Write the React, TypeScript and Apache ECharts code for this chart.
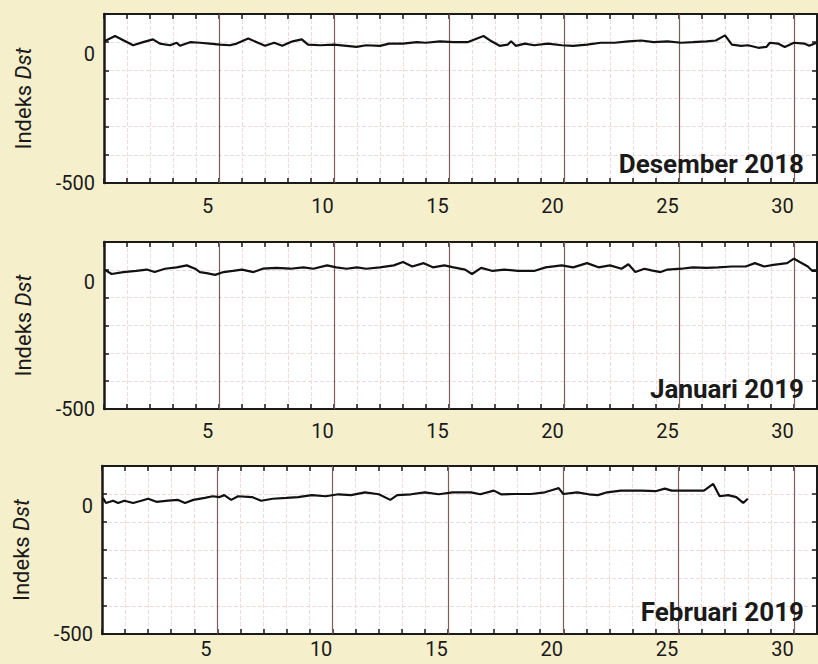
import React, { useEffect, useRef } from 'react';
import * as echarts from 'echarts';

const monthTitles = ['Desember 2018', 'Januari 2019', 'Februari 2019'];
const labelDays = [5, 10, 15, 20, 25, 30];
const majorDays = [5, 10, 15, 20, 25, 30];
const yLabelValues = [0, -500];

// Day elapsed since start of month (0..31) and Dst index (nT)
const decDays = [0.02, 0.48, 0.84, 1.27, 1.7, 2.13, 2.43, 2.87, 3.16, 3.3, 3.74, 4.17, 4.6, 5.04, 5.48, 5.77, 6.27, 6.64, 7.0, 7.4, 7.75, 8.2, 8.6, 8.87, 9.4, 10, 10.55, 10.98, 11.4, 12, 12.4, 13, 13.6, 14, 14.6, 15.2,
  15.8, 16.5, 16.85, 17.2, 17.55, 17.7, 17.9, 18.3, 18.7, 19.3, 19.9, 20.4, 21.0, 21.6, 22.2, 22.8, 23.35, 23.9, 24.5, 25.1, 25.6, 26.2, 26.6, 27.0, 27.3, 27.7, 28.0, 28.45, 28.8, 28.95, 29.3, 29.6, 30.0, 30.45, 30.66, 30.98];
const decDst = [3, 22, 7, -11, 0, 10, -5, -11, -2, -13, 0, -2, -5, -9, -11, -5, 13, 0, -13, -2, -13, 3, 10, -9, -11, -9, -13, -17, -11, -13, -5, -5, 0, -2, 3, 0,
  0, 22, 3, -13, -9, 3, -13, -5, -11, -5, -11, -13, -9, -2, -2, 3, 6, 0, 3, -2, 0, 3, 6, 24, -9, -13, -11, -20, -17, -2, -5, -17, -2, -5, -13, -2];

const janDays = [0.04, 0.33, 0.84, 1.4, 1.86, 2.2, 2.65, 3.16, 3.6, 3.96, 4.17, 4.46, 4.83, 5.2, 5.6, 6.0, 6.5, 6.9, 7.5, 8.1, 8.67, 9.1, 9.7, 10.1, 10.55, 11, 11.4, 12, 12.6, 13.0, 13.4, 13.9, 14.3, 14.8, 15.2,
  15.7, 16.0, 16.4, 16.9, 17.4, 18.0, 18.7, 19.2, 19.9, 20.4, 21.0, 21.5, 22.0, 22.5, 22.8, 23.1, 23.5, 23.8, 24.2, 24.5, 25.1, 25.6, 26.2, 26.7, 27.3, 27.9, 28.3, 28.7, 29.1, 29.7, 30.0, 30.25, 30.6, 30.8, 30.98];
const janDst = [0, -15, -8, -4, 1, -8, 4, 9, 16, 4, -8, -12, -18, -8, -4, 1, -8, 4, 7, 4, 9, 4, 16, 9, 4, 9, 4, 9, 16, 28, 12, 24, 9, 16, 9,
  1, -15, 7, -4, 1, -4, -4, 9, 16, 9, 24, 9, 16, 4, 20, -8, 4, -2, -8, 1, 4, 9, 7, 9, 12, 12, 24, 12, 18, 24, 40, 28, 12, -4, -4];

const febDays = [0.04, 0.17, 0.48, 0.7, 0.97, 1.35, 1.7, 2.0, 2.36, 2.87, 3.3, 3.6, 3.96, 4.46, 4.8, 5.1, 5.3, 5.6, 5.9, 6.5, 6.9, 7.4, 8.0, 8.5, 9.1, 9.7, 10.25, 10.8, 11.4, 12, 12.5, 12.8, 13.4, 14.0, 14.6, 15.2,
  16.0, 16.4, 16.99, 17.3, 17.87, 18.6, 19.2, 19.6, 19.8, 20.0, 20.6, 21.1, 21.5, 21.9, 22.5, 23.4, 24.0, 24.4, 24.7, 25.4, 26.1, 26.5, 26.78, 27.15, 27.5, 27.8, 28.0];
const febDst = [-14, -32, -24, -32, -24, -32, -24, -17, -28, -24, -21, -32, -21, -14, -8, -11, -4, -21, -8, -11, -24, -17, -14, -11, -4, -8, -1, -4, 6, -1, -21, -4, -1, 6, -1, 6,
  6, -1, 12, -1, 0, 0, 6, 16, 21, 0, 6, -1, -4, 6, 12, 12, 10, 19, 12, 12, 12, 36, -8, -4, -11, -32, -17];

const panelDays = [decDays, janDays, febDays];
const panelDst = [decDst, janDst, febDst];

export default function App() {
  const ref = useRef<HTMLDivElement>(null);
  useEffect(() => {
    const chart = echarts.init(ref.current!, null, { renderer: 'svg' });
    const layout = [
      { left: 104, top: 14, height: 169, titleTop: 146, labelMargin: 13 },
      { left: 104, top: 242, height: 167, titleTop: 371, labelMargin: 12 },
      { left: 102, top: 466, height: 168, titleTop: 594, labelMargin: 5 },
    ];
    const ink = '#1a1a1a';
    const font = 'Roboto, "Noto Sans", sans-serif';
    const grids: any[] = [];
    const xAxes: any[] = [];
    const yAxes: any[] = [];
    const series: any[] = [];
    const titles: any[] = [];
    layout.forEach((L, i) => {
      grids.push({ left: L.left, right: 1, top: L.top, height: L.height, show: true, backgroundColor: '#ffffff', borderWidth: 0 });
      xAxes.push({
        type: 'value', gridIndex: i, min: 0, max: 31, interval: 1, position: 'bottom',
        axisLine: { show: true, onZero: false, lineStyle: { color: ink, width: 2 } },
        axisTick: { show: true, inside: true, length: 5, lineStyle: { color: ink, width: 1.5 } },
        axisLabel: {
          show: true, customValues: labelDays.map((d) => d - 0.5),
          formatter: (v: number) => String(Math.round(v + 0.5)),
          fontSize: 20, color: ink, fontFamily: font, margin: L.labelMargin,
        },
        splitLine: { show: true, lineStyle: { color: '#f1d9dc', type: 'dashed', width: 1 } },
      });
      xAxes.push({
        type: 'value', gridIndex: i, min: 0, max: 31, interval: 1, position: 'top',
        axisLine: { show: true, onZero: false, lineStyle: { color: ink, width: 2 } },
        axisTick: { show: true, inside: true, length: 5, lineStyle: { color: ink, width: 1.5 } },
        axisLabel: { show: false }, splitLine: { show: false },
      });
      yAxes.push({
        type: 'value', gridIndex: i, min: -500, max: 100, interval: 100, position: 'left',
        name: '{a|Indeks }{b|Dst}', nameLocation: 'middle', nameGap: 70, nameRotate: 90,
        nameTextStyle: {
          fontFamily: font, fontSize: 22, color: ink,
          rich: { a: { fontFamily: font, fontSize: 22, color: ink }, b: { fontFamily: font, fontSize: 22, color: ink, fontStyle: 'italic' } },
        },
        axisLine: { show: true, onZero: false, lineStyle: { color: ink, width: 2.5 } },
        axisTick: { show: true, inside: true, length: 5, lineStyle: { color: ink, width: 1.5 } },
        axisLabel: {
          fontSize: 20, color: ink, fontFamily: font, margin: 9,
          formatter: (v: number) => (v === yLabelValues[0] ? '{z|0}' : v === yLabelValues[1] ? String(v) : ''),
          rich: { z: { fontSize: 20, color: ink, fontFamily: font, padding: [24, 0, 0, 0] } },
        },
        splitLine: { show: true, lineStyle: { color: '#f1d9dc', type: 'dashed', width: 1 } },
      });
      yAxes.push({
        type: 'value', gridIndex: i, min: -500, max: 100, interval: 100, position: 'right',
        axisLine: { show: true, onZero: false, lineStyle: { color: ink, width: 2 } },
        axisTick: { show: true, inside: true, length: 5, lineStyle: { color: ink, width: 1.5 } },
        axisLabel: { show: false }, splitLine: { show: false },
      });
      series.push({
        type: 'line', xAxisIndex: 2 * i, yAxisIndex: 2 * i,
        data: panelDays[i].map((d, k) => [d, panelDst[i][k]]),
        showSymbol: false, symbol: 'none', z: 5,
        lineStyle: { color: '#111111', width: 2.2 },
        markLine: {
          silent: true, symbol: 'none', label: { show: false }, z: 3,
          lineStyle: { color: '#7d5d5d', width: 1.2, type: 'solid' },
          data: majorDays.map((d) => ({ xAxis: d })),
        },
      });
      titles.push({
        text: monthTitles[i], right: 9, top: L.titleTop,
        textStyle: { fontFamily: font, fontSize: 26, fontWeight: 'bold', color: ink },
      });
    });
    chart.setOption({
      animation: false,
      backgroundColor: '#f6efcc',
      title: titles,
      grid: grids,
      xAxis: xAxes,
      yAxis: yAxes,
      series,
    });
    return () => chart.dispose();
  }, []);
  return <div ref={ref} style={{ position: 'absolute', left: 0, top: 0, width: 818, height: 664 }} />;
}
